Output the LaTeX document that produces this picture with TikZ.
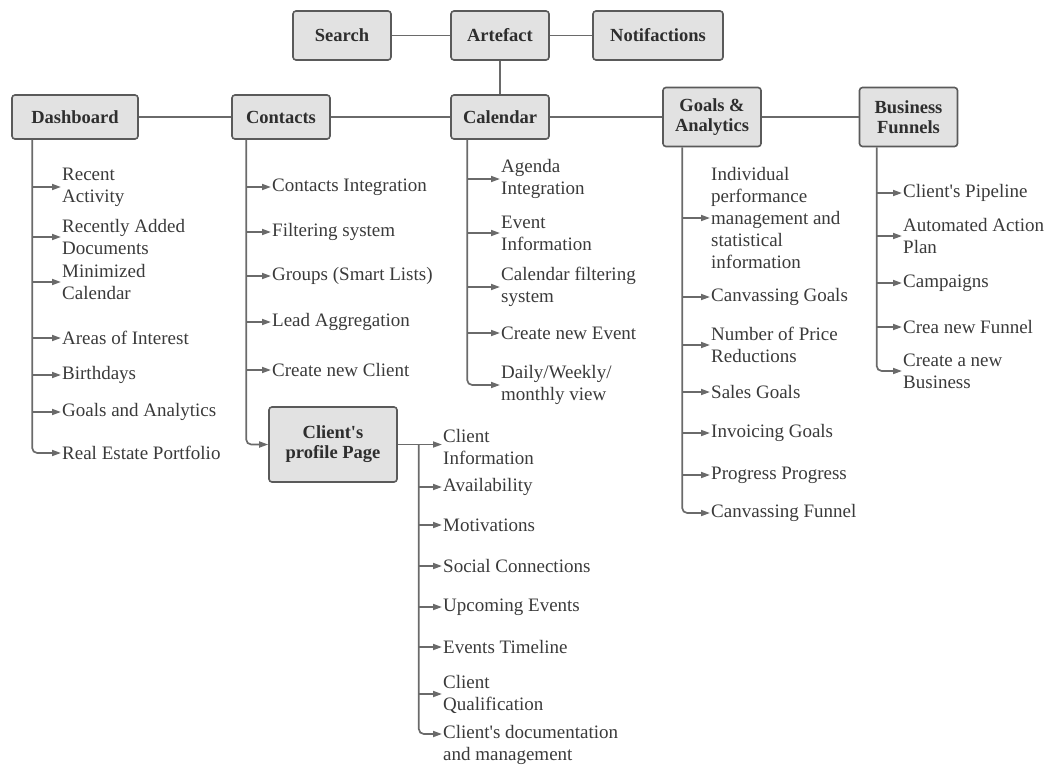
\documentclass[tikz,border=0pt]{standalone}
\usepackage{fontspec}
\setmainfont{Liberation Serif}
\usetikzlibrary{arrows.meta,positioning}
\definecolor{boxfill}{HTML}{E2E2E2}
\definecolor{boxline}{HTML}{5A5A5A}
\definecolor{linkgray}{HTML}{6A6A6A}
\definecolor{darktext}{HTML}{3A3A3A}
\newcommand{\apos}{\textquotesingle}

\tikzset{
  menubox/.style={draw=boxline, fill=boxfill, line width=1.6pt, rounded corners=3pt,
    align=center, text=darktext!80!black, font=\fontsize{18.5}{20}\selectfont\bfseries,
    minimum width=98pt, minimum height=44pt, inner sep=2pt},
  item/.style={anchor=west, align=left, inner sep=1pt, text=darktext,
    font=\fontsize{19}{22}\selectfont},
  link/.style={draw=linkgray, line width=1.7pt},
  branch/.style={link, -{Triangle[length=9pt,width=6pt]}, rounded corners=5pt},
}

\begin{document}
\begin{tikzpicture}[x=1pt,y=-1pt]
\useasboundingbox (0,0) rectangle (1050,769);
% top row
\node[menubox, minimum height=49pt] (search) at (342,35.5) {Search};
\node[menubox, minimum height=49pt] (artefact) at (500,35.5) {Artefact};
\node[menubox, minimum height=49pt, minimum width=130pt] (notif) at (658,35.5) {Notifactions};
% main row
\node[menubox, minimum width=126pt] (dash) at (75,117) {Dashboard};
\node[menubox] (contacts) at (281,117) {Contacts};
\node[menubox] (calendar) at (500,117) {Calendar};
\node[menubox, minimum height=59pt] (goals) at (712,117) {Goals \&\\Analytics};
\node[menubox, minimum height=59pt] (funnels) at (908.5,117) {Business\\Funnels};
\node[menubox, minimum width=128pt, minimum height=75pt] (profile) at (333,444.5) {Client\apos s\\profile Page};

\draw[link] (search) -- (artefact) -- (notif);
\draw[link] (artefact) -- (calendar);
\draw[link] (dash) -- (contacts) -- (calendar) -- (goals) -- (funnels);

\coordinate (dT) at ([xshift=21pt]dash.south west);
\coordinate (cT) at ([xshift=15pt]contacts.south west);
\coordinate (kT) at ([xshift=17pt]calendar.south west);
\coordinate (gT) at ([xshift=20pt]goals.south west);
\coordinate (fT) at ([xshift=18pt]funnels.south west);
\coordinate (pT) at ([xshift=21pt]profile.east);

% Dashboard
\node[item] (d1) at (61,187) {Recent\\Activity};
\node[item] (d2) at (61,237) {Recently Added\\Documents};
\node[item] (d3) at (61,282) {Minimized\\Calendar};
\node[item] (d4) at (61,338) {Areas of Interest};
\node[item] (d5) at (61,375) {Birthdays};
\node[item] (d6) at (61,412) {Goals and Analytics};
\node[item] (d7) at (61,453) {Real Estate Portfolio};
\foreach \n in {d1,d2,d3,d4,d5,d6}
  \draw[branch] (dT |- \n.west) -- (\n.west);
\draw[branch] (dT) |- (d7.west);

% Contacts
\node[item] (c1) at (271,187) {Contacts Integration};
\node[item] (c2) at (271,232) {Filtering system};
\node[item] (c3) at (271,276) {Groups (Smart Lists)};
\node[item] (c4) at (271,322) {Lead Aggregation};
\node[item] (c5) at (271,370) {Create new Client};
\foreach \n in {c1,c2,c3,c4,c5}
  \draw[branch] (cT |- \n.west) -- (\n.west);
\draw[branch] (cT) |- (profile.west);

% Calendar
\node[item] (k1) at (500,179) {Agenda\\Integration};
\node[item] (k2) at (500,233) {Event\\Information};
\node[item] (k3) at (500,287) {Calendar filtering\\system};
\node[item] (k4) at (500,333) {Create new Event};
\node[item] (k5) at (500,385) {Daily/Weekly/\\monthly view};
\foreach \n in {k1,k2,k3,k4}
  \draw[branch] (kT |- \n.west) -- (\n.west);
\draw[branch] (kT) |- (k5.west);

% Goals & Analytics
\node[item] (g1) at (710,218) {Individual\\performance\\management and\\statistical\\information};
\node[item] (g2) at (710,297) {Canvassing Goals};
\node[item] (g3) at (710,345) {Number of Price\\Reductions};
\node[item] (g4) at (710,392) {Sales Goals};
\node[item] (g5) at (710,433) {Invoicing Goals};
\node[item] (g6) at (710,475) {Progress Progress};
\node[item] (g7) at (710,513) {Canvassing Funnel};
\foreach \n in {g1,g2,g3,g4,g5,g6}
  \draw[branch] (gT |- \n.west) -- (\n.west);
\draw[branch] (gT) |- (g7.west);

% Business Funnels
\node[item] (f1) at (902,193) {Client\apos s Pipeline};
\node[item] (f2) at (902,236) {Automated Action\\Plan};
\node[item] (f3) at (902,283) {Campaigns};
\node[item] (f4) at (902,327) {Crea new Funnel};
\node[item] (f5) at (902,371) {Create a new\\Business};
\foreach \n in {f1,f2,f3,f4}
  \draw[branch] (fT |- \n.west) -- (\n.west);
\draw[branch] (fT) |- (f5.west);

% Client's profile Page
\node[item] (p1) at (442,447) {Client\\Information};
\node[item] (p2) at (442,487) {Availability};
\node[item] (p3) at (442,525) {Motivations};
\node[item] (p4) at (442,566) {Social Connections};
\node[item] (p5) at (442,607) {Upcoming Events};
\node[item] (p6) at (442,647) {Events Timeline};
\node[item] (p7) at (442,694) {Client\\Qualification};
\node[item] (p8) at (442,745) {Client\apos s documentation\\and management};
\draw[branch] (profile.east) -- (profile.east -| p1.west);
\foreach \n in {p2,p3,p4,p5,p6,p7}
  \draw[branch] (pT |- \n.west) -- (\n.west);
\draw[branch] (pT) |- ([yshift=11pt]p8.west);
\end{tikzpicture}
\end{document}
